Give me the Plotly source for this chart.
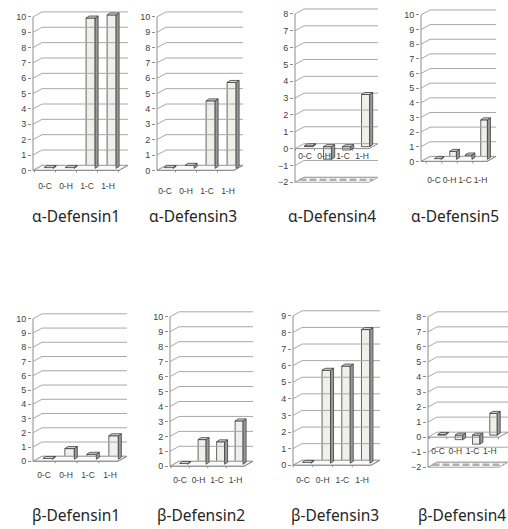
import plotly.graph_objects as go

# ---------------- data ----------------
categories = ["0-C", "0-H", "1-C", "1-H"]
titles = ["α-Defensin1", "α-Defensin3", "α-Defensin4", "α-Defensin5",
          "β-Defensin1", "β-Defensin2", "β-Defensin3", "β-Defensin4"]
alpha_defensin1 = [0.05, 0.05, 9.8, 10.0]
alpha_defensin3 = [0.05, 0.2, 4.4, 5.6]
alpha_defensin4 = [0.05, -0.75, -0.2, 3.1]
alpha_defensin5 = [0.05, 0.55, 0.3, 2.7]
beta_defensin1 = [0.05, 0.75, 0.35, 1.65]
beta_defensin2 = [0.05, 1.65, 1.5, 2.9]
beta_defensin3 = [0.05, 5.6, 5.85, 8.05]
beta_defensin4 = [0.05, -0.3, -0.6, 1.45]
series = [alpha_defensin1, alpha_defensin3, alpha_defensin4, alpha_defensin5,
          beta_defensin1, beta_defensin2, beta_defensin3, beta_defensin4]
y_limits = [(0, 10), (0, 10), (-2, 8), (0, 10), (0, 10), (0, 10), (0, 9), (-2, 8)]

# ---------------- layout geometry (pixels) ----------------
W, H = 508, 529
# axis_x, right_x, y_top_px, y_bot_px, first_cat_px, cat_spacing, cat_label_py, title_x, title_y
geometry = [
    (33, 128, 17, 171, 45, 21.0, 188, 76, 217),
    (157, 243, 17, 171, 165, 21.0, 193, 193, 217),
    (295, 378, 14, 183, 305, 19.0, 157, 332, 217),
    (421, 496, 15, 162, 434, 15.5, 182, 455, 217),
    (33, 127, 320, 463, 44, 22.0, 478, 76, 517),
    (170, 253, 318, 468, 180, 18.5, 483, 201, 517),
    (293, 380, 317, 467, 303, 19.7, 483, 335, 517),
    (428, 508, 318, 469, 438, 17.3, 454, 462, 517),
]

GRID = "#A8A8A8"
AXIS = "#8C8C8C"
TXT = "#404040"

fig = go.Figure()
layout = dict(width=W, height=H, margin=dict(l=0, r=0, t=0, b=0),
              paper_bgcolor="white", plot_bgcolor="white", showlegend=False,
              annotations=[])

for k in range(8):
    vals = series[k]
    ymin, ymax = y_limits[k]
    ax_px, right_px, ytop, ybot, c0, cs, laby, tx, ty = geometry[k]
    sfx = "" if k == 0 else str(k + 1)
    xref, yref = "x" + sfx, "y" + sfx
    ppu = (ybot - ytop) / (ymax - ymin)

    def ydat(py):
        return ymin + (ybot - py) / ppu

    def xdat(px):
        return (px - c0) / cs

    dx, dy = 9, 5
    dxu, dyu = dx / cs, dy / ppu
    xl, xr = xdat(ax_px), xdat(right_px)
    ticks = list(range(ymin, ymax + 1))
    bottom_px = max(ybot + 3, laby + 8)

    layout["xaxis" + sfx] = dict(domain=[(ax_px - 1) / W, right_px / W],
                                 range=[xdat(ax_px - 1), xr], visible=False,
                                 anchor=yref, fixedrange=True)
    layout["yaxis" + sfx] = dict(domain=[1 - bottom_px / H, 1 - (ytop - dy - 2) / H],
                                 range=[ydat(bottom_px), ydat(ytop - dy - 2)],
                                 anchor=xref, tickvals=ticks, ticks="outside",
                                 ticklen=3, tickcolor=AXIS, showgrid=False,
                                 zeroline=False, showline=False,
                                 tickfont=dict(family="Liberation Sans", size=9, color=TXT),
                                 fixedrange=True)

    # floor
    fx = [xl, xl + dxu, xr, xr - dxu, xl]
    fy = [ymin, ymin + dyu, ymin + dyu, ymin, ymin]
    fig.add_trace(go.Scatter(x=fx, y=fy, xaxis=xref, yaxis=yref, mode="lines",
                             fill="toself", fillcolor="#FAFAFA",
                             line=dict(color=GRID, width=1), hoverinfo="skip"))
    if ymin < 0:
        fig.add_trace(go.Scatter(x=[xl + dxu * 0.5, xr - dxu * 0.5],
                                 y=[ymin + dyu * 0.5, ymin + dyu * 0.5],
                                 xaxis=xref, yaxis=yref, mode="lines",
                                 line=dict(color="#B0B0B0", width=2.5, dash="7px,3px"),
                                 hoverinfo="skip"))

    # gridlines (back wall with slanted side)
    gx, gy = [], []
    for v in ticks:
        gx += [xl, xl + dxu, xr, None]
        gy += [v, v + dyu, v + dyu, None]
    fig.add_trace(go.Scatter(x=gx, y=gy, xaxis=xref, yaxis=yref, mode="lines",
                             line=dict(color=GRID, width=1), hoverinfo="skip"))

    # y axis line and category axis (front edge at 0)
    tk = 2 / ppu
    cx = [xl, xl, None, xl, xr - dxu, xr, None]
    cy = [ymin, ymax, None, 0, 0, dyu, None]
    for j in range(-1, 4):
        b = j + 0.5
        if xl < b < xr - dxu:
            cx += [b, b, None]
            cy += [0, -tk, None]
    fig.add_trace(go.Scatter(x=cx, y=cy, xaxis=xref, yaxis=yref, mode="lines",
                             line=dict(color=AXIS, width=1), hoverinfo="skip"))

    # bars (front face)
    bxu, byu = 0.4 * dxu, 0.4 * dyu
    bw = 0.43
    bdx, bdy = 3 / cs, 2 / ppu
    xs = [i + bxu for i in range(len(vals))]
    fig.add_trace(go.Bar(x=xs, y=vals, base=byu, width=bw, xaxis=xref, yaxis=yref,
                         marker=dict(color="#F0F0EA", line=dict(color="#3F3F3F", width=0.8)),
                         hoverinfo="skip"))
    # side and top faces
    sx, sy, tx_, ty_ = [], [], [], []
    for i, v in enumerate(vals):
        lo = byu + min(v, 0)
        hi = byu + max(v, 0)
        r = xs[i] + bw / 2
        l = xs[i] - bw / 2
        sx += [r, r, r + bdx, r + bdx, r, None]
        sy += [lo, hi, hi + bdy, lo + bdy, lo, None]
        tx_ += [l, l + bdx, r + bdx, r, l, None]
        ty_ += [hi, hi + bdy, hi + bdy, hi, hi, None]
    fig.add_trace(go.Scatter(x=sx, y=sy, xaxis=xref, yaxis=yref, mode="lines",
                             fill="toself", fillcolor="#9A9A9A",
                             line=dict(color="#3F3F3F", width=0.8), hoverinfo="skip"))
    fig.add_trace(go.Scatter(x=tx_, y=ty_, xaxis=xref, yaxis=yref, mode="lines",
                             fill="toself", fillcolor="#DADADA",
                             line=dict(color="#3F3F3F", width=0.8), hoverinfo="skip"))

    # category labels
    fig.add_trace(go.Scatter(x=list(range(len(categories))), y=[ydat(laby)] * len(categories),
                             text=categories, mode="text", xaxis=xref, yaxis=yref,
                             textfont=dict(family="Liberation Sans", size=8.5, color=TXT),
                             cliponaxis=False, hoverinfo="skip"))

    # panel title
    layout["annotations"].append(dict(x=tx / W, y=1 - ty / H, xref="paper", yref="paper",
                                      text=titles[k], showarrow=False,
                                      xanchor="center", yanchor="middle",
                                      font=dict(family="Noto Sans", size=15.5, color="#262626")))

fig.update_layout(**layout)
fig.write_html("out.html", config={"displayModeBar": False},
               post_script="document.body.style.margin='0';")
